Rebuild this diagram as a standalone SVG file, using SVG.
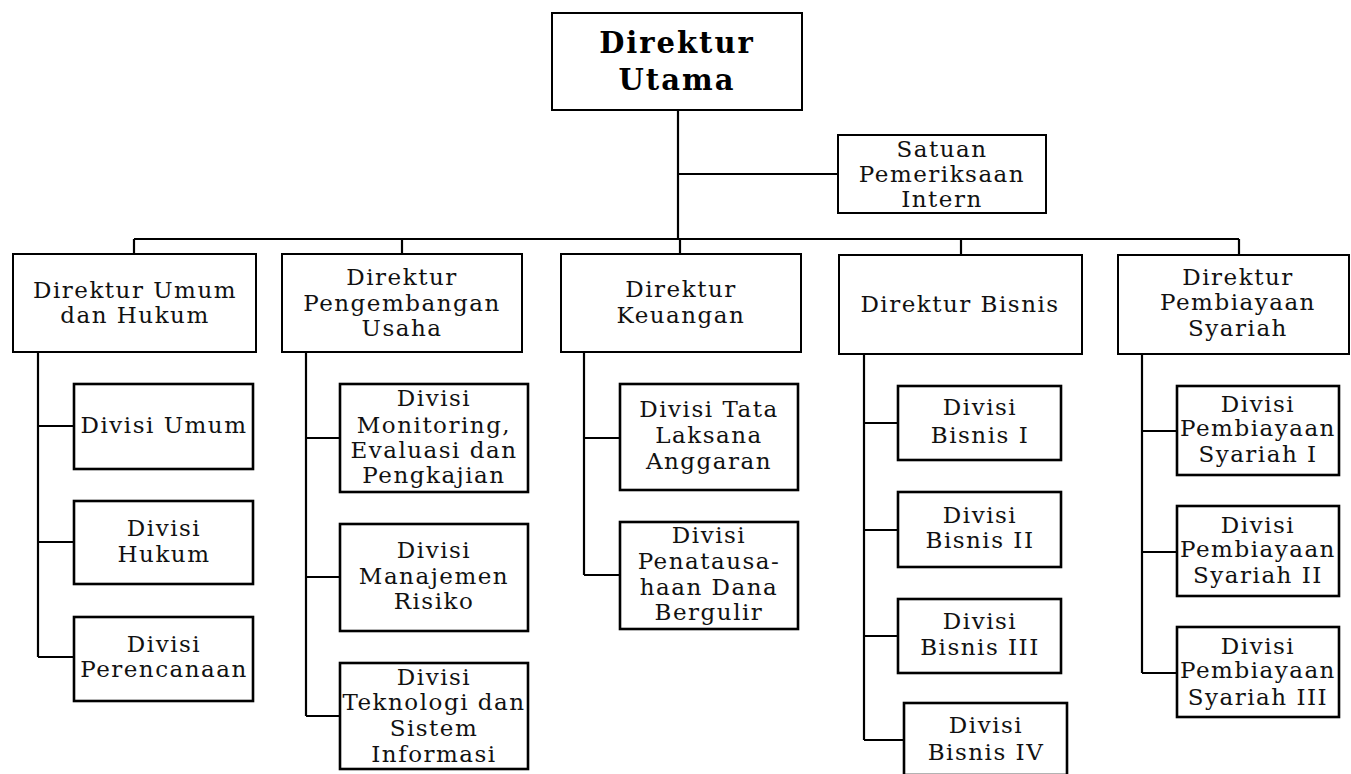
<svg xmlns="http://www.w3.org/2000/svg" width="1351" height="774" viewBox="0 0 1351 774">
  <style>
    .bg { fill: #ffffff; }
    .box { fill: #ffffff; stroke: #000000; stroke-width: 2; }
    .div { fill: #ffffff; stroke: #000000; stroke-width: 2.6; }
    .line { fill: none; stroke: #000000; stroke-width: 2.2; }
    text { font-family: "DejaVu Serif", "Liberation Serif", serif; font-size: 23px; letter-spacing: 1.5px; text-anchor: middle; fill: #111111; }
    .title { font-weight: bold; font-size: 29px; letter-spacing: 2px; fill: #000000; }
  </style>
  <rect class="bg" x="0" y="0" width="1351" height="774"/>

  <!-- connectors -->
  <g id="connectors">
    <path class="line" d="M678 110 V239 M678 174 H838"/>
    <path class="line" d="M134 239 H1239"/>
    <path class="line" d="M134 239 V254 M402 239 V254 M680 239 V254 M961 239 V255 M1239 239 V255"/>
    <!-- Direktur Umum dan Hukum -->
    <path class="line" d="M38 352 V657 M38 426 H74 M38 542 H74 M38 657 H74"/>
    <!-- Direktur Pengembangan Usaha -->
    <path class="line" d="M306 352 V716 M306 438 H340 M306 577 H340 M306 716 H340"/>
    <!-- Direktur Keuangan -->
    <path class="line" d="M584 352 V575 M584 438 H620 M584 575 H620"/>
    <!-- Direktur Bisnis -->
    <path class="line" d="M864 354 V740 M864 423 H898 M864 530 H898 M864 636 H898 M864 740 H904"/>
    <!-- Direktur Pembiayaan Syariah -->
    <path class="line" d="M1142 354 V673 M1142 431 H1177 M1142 552 H1177 M1142 673 H1177"/>
  </g>

  <g id="direktur-utama">
    <rect class="box" x="552" y="13" width="250" height="97"/>
    <text class="title" x="677" y="53">Direktur</text>
    <text class="title" x="677" y="90">Utama</text>
  </g>

  <g id="satuan-pemeriksaan-intern">
    <rect class="box" x="838" y="135" width="208" height="78"/>
    <text x="942" y="157">Satuan</text>
    <text x="942" y="182">Pemeriksaan</text>
    <text x="942" y="207">Intern</text>
  </g>

  <g id="direktur-umum-hukum">
    <rect class="box" x="13" y="254" width="243" height="98"/>
    <text x="135" y="298">Direktur Umum</text>
    <text x="135" y="323">dan Hukum</text>
  </g>

  <g id="direktur-pengembangan-usaha">
    <rect class="box" x="282" y="254" width="240" height="98"/>
    <text x="402" y="285">Direktur</text>
    <text x="402" y="311">Pengembangan</text>
    <text x="402" y="336">Usaha</text>
  </g>

  <g id="direktur-keuangan">
    <rect class="box" x="561" y="254" width="240" height="98"/>
    <text x="681" y="297">Direktur</text>
    <text x="681" y="323">Keuangan</text>
  </g>

  <g id="direktur-bisnis">
    <rect class="box" x="839" y="255" width="243" height="99"/>
    <text x="960" y="312">Direktur Bisnis</text>
  </g>

  <g id="direktur-pembiayaan-syariah">
    <rect class="box" x="1118" y="255" width="231" height="99"/>
    <text x="1238" y="285">Direktur</text>
    <text x="1238" y="310">Pembiayaan</text>
    <text x="1238" y="336">Syariah</text>
  </g>

  <g id="divisi-umum">
    <rect class="div" x="74" y="384" width="179" height="85"/>
    <text x="164" y="433">Divisi Umum</text>
  </g>
  <g id="divisi-hukum">
    <rect class="div" x="74" y="501" width="179" height="83"/>
    <text x="164" y="536">Divisi</text>
    <text x="164" y="562">Hukum</text>
  </g>
  <g id="divisi-perencanaan">
    <rect class="div" x="74" y="617" width="179" height="84"/>
    <text x="164" y="652">Divisi</text>
    <text x="164" y="677">Perencanaan</text>
  </g>

  <g id="divisi-monitoring">
    <rect class="div" x="340" y="384" width="188" height="108"/>
    <text x="434" y="406">Divisi</text>
    <text x="434" y="433">Monitoring,</text>
    <text x="434" y="458">Evaluasi dan</text>
    <text x="434" y="483">Pengkajian</text>
  </g>
  <g id="divisi-manajemen-risiko">
    <rect class="div" x="340" y="524" width="188" height="107"/>
    <text x="434" y="558">Divisi</text>
    <text x="434" y="584">Manajemen</text>
    <text x="434" y="609">Risiko</text>
  </g>
  <g id="divisi-teknologi">
    <rect class="div" x="340" y="663" width="188" height="106"/>
    <text x="434" y="685">Divisi</text>
    <text x="434" y="710">Teknologi dan</text>
    <text x="434" y="736">Sistem</text>
    <text x="434" y="762">Informasi</text>
  </g>

  <g id="divisi-tata-laksana-anggaran">
    <rect class="div" x="620" y="384" width="178" height="106"/>
    <text x="709" y="417">Divisi Tata</text>
    <text x="709" y="443">Laksana</text>
    <text x="709" y="469">Anggaran</text>
  </g>
  <g id="divisi-penatausahaan">
    <rect class="div" x="620" y="522" width="178" height="107"/>
    <text x="709" y="543">Divisi</text>
    <text x="709" y="569">Penatausa-</text>
    <text x="709" y="595">haan Dana</text>
    <text x="709" y="620">Bergulir</text>
  </g>

  <g id="divisi-bisnis-1">
    <rect class="div" x="898" y="386" width="163" height="74"/>
    <text x="980" y="415">Divisi</text>
    <text x="980" y="443">Bisnis I</text>
  </g>
  <g id="divisi-bisnis-2">
    <rect class="div" x="898" y="492" width="163" height="75"/>
    <text x="980" y="523">Divisi</text>
    <text x="980" y="548">Bisnis II</text>
  </g>
  <g id="divisi-bisnis-3">
    <rect class="div" x="898" y="599" width="163" height="74"/>
    <text x="980" y="629">Divisi</text>
    <text x="980" y="655">Bisnis III</text>
  </g>
  <g id="divisi-bisnis-4">
    <rect class="div" x="904" y="703" width="163" height="72"/>
    <text x="986" y="733">Divisi</text>
    <text x="986" y="760">Bisnis IV</text>
  </g>

  <g id="divisi-pembiayaan-syariah-1">
    <rect class="div" x="1177" y="386" width="162" height="89"/>
    <text x="1258" y="412">Divisi</text>
    <text x="1258" y="436">Pembiayaan</text>
    <text x="1258" y="462">Syariah I</text>
  </g>
  <g id="divisi-pembiayaan-syariah-2">
    <rect class="div" x="1177" y="506" width="162" height="90"/>
    <text x="1258" y="533">Divisi</text>
    <text x="1258" y="557">Pembiayaan</text>
    <text x="1258" y="583">Syariah II</text>
  </g>
  <g id="divisi-pembiayaan-syariah-3">
    <rect class="div" x="1177" y="627" width="162" height="90"/>
    <text x="1258" y="654">Divisi</text>
    <text x="1258" y="678">Pembiayaan</text>
    <text x="1258" y="705">Syariah III</text>
  </g>
</svg>
